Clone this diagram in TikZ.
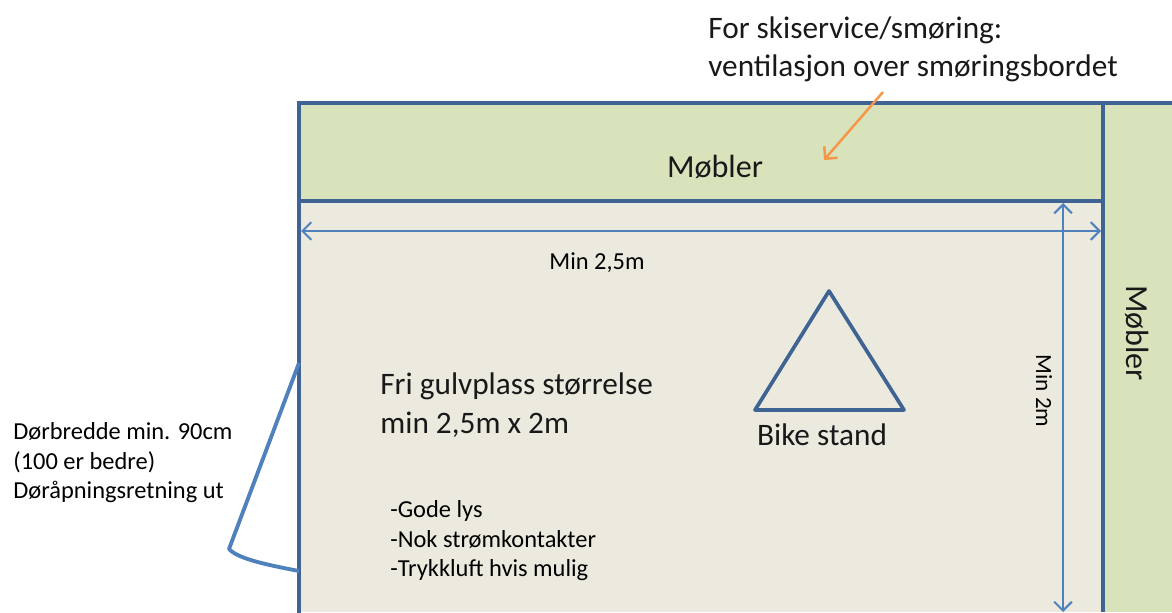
\documentclass[tikz,border=0pt]{standalone}
\usepackage{fontspec}
\setmainfont{Carlito}
\usetikzlibrary{math, arrows.meta}
\definecolor{wallblue}{HTML}{3F6393}
\definecolor{dimblue}{HTML}{4F81BD}
\definecolor{furngreen}{HTML}{D8E3BC}
\definecolor{floorgrey}{HTML}{ECEADF}
\definecolor{notearrow}{HTML}{F79646}
\tikzset{
    wall/.style={draw=wallblue, line width=2.1pt},
    dimline/.style={draw=dimblue, line width=1pt, {Straight Barb[length=5pt,width=10pt,line width=1.2pt]}-{Straight Barb[length=5pt,width=10pt,line width=1.2pt]}},
    bigtext/.style={font=\fontsize{17.8}{21.8}\selectfont, inner sep=0pt, align=left, text=black!90},
    furntext/.style={font=\fontsize{18.3}{22}\selectfont, inner sep=0pt, text=black!90},
    smalltext/.style={font=\fontsize{13.9}{16.8}\selectfont, inner sep=0pt, align=left, text=black},
}

\begin{document}
\begin{tikzpicture}[x=0.02cm, y=-0.02cm]
    \tikzmath{
        \figwidth=1172;
        \figheight=612;
        \roomleft=299;
        \roomtop=103;
        \shelfbottom=201;
        \divider=1103;
    }
    \useasboundingbox (0, 0) rectangle (\figwidth, \figheight);

    % areas
    \fill [floorgrey] (\roomleft, \shelfbottom) rectangle (\divider, \figheight);
    \fill [furngreen] (\roomleft, \roomtop) rectangle (\figwidth, \shelfbottom);
    \fill [furngreen] (\divider, \shelfbottom) rectangle (\figwidth, \figheight);

    % walls
    \coordinate (topleft) at (\roomleft, \roomtop);
    \coordinate (topright) at (\figwidth, \roomtop);
    \coordinate (botleft) at (\roomleft, \figheight);
    \coordinate (divtop) at (\divider, \roomtop);
    \coordinate (divbot) at (\divider, \figheight);
    \coordinate (shelfleft) at (\roomleft, \shelfbottom);
    \coordinate (shelfright) at (\divider, \shelfbottom);
    \draw [wall, line cap=rect] (botleft) -- (topleft) -- (topright);
    \draw [wall] (divtop) -- (divbot);
    \draw [wall] (shelfleft) -- (shelfright);

    % dimensions
    \coordinate (widthleft) at (\roomleft+2, 231);
    \coordinate (widthright) at (\divider-2, 231);
    \draw [dimline] (widthleft) -- (widthright);
    \coordinate (depthtop) at (1063, \shelfbottom+2);
    \coordinate (depthbot) at (1063, \figheight);
    \draw [dimline] (depthtop) -- (depthbot);
    \node (widthlabel) [smalltext] at (597, 263) {Min 2,5m};
    \node (depthlabel) [smalltext, font=\fontsize{13.2}{16}\selectfont, rotate=-90] at (1044, 391) {Min 2m};

    % bike stand
    \coordinate (standtop) at (829, 291);
    \coordinate (standleft) at (755, 410);
    \coordinate (standright) at (904, 410);
    \draw [wall, line join=round] (standtop) -- (standright) -- (standleft) -- cycle;
    \node (standlabel) [bigtext] at (822, 435) {Bike stand};

    % door
    \coordinate (doortop) at (\roomleft, 363);
    \coordinate (doorfree) at (229, 549);
    \coordinate (doorbot) at (\roomleft, 571);
    \draw [draw=dimblue, line width=2.2pt, line join=round] (doortop) -- (doorfree) .. controls (238, 559) and (268, 565) .. (doorbot);

    % texts
    \node (shelfup) [furntext] at (715, 167) {Møbler};
    \node (shelfside) [furntext, rotate=-90] at (1137, 333) {Møbler};
    \node (floortext) [bigtext, anchor=west] at (380, 405) {Fri gulvplass størrelse\\min 2,5m x 2m};
    \node (notetext) [bigtext, anchor=west] at (708, 49) {For skiservice/smøring:\\ventilasjon over smøringsbordet};
    \node (doortext) [smalltext, anchor=west] at (13, 463) {Dørbredde min. 90cm\\(100 er bedre)\\Døråpningsretning ut};
    \node (needs) [smalltext, anchor=west] at (390, 541) {-Gode lys\\-Nok strømkontakter\\-Trykkluft hvis mulig};

    % note arrow
    \coordinate (notestart) at (883, 92);
    \coordinate (noteend) at (824, 160);
    \draw [draw=notearrow, line width=1.4pt, -{Straight Barb[length=5pt,width=10pt,line width=1.4pt]}] (notestart) -- (noteend);
\end{tikzpicture}
\end{document}
